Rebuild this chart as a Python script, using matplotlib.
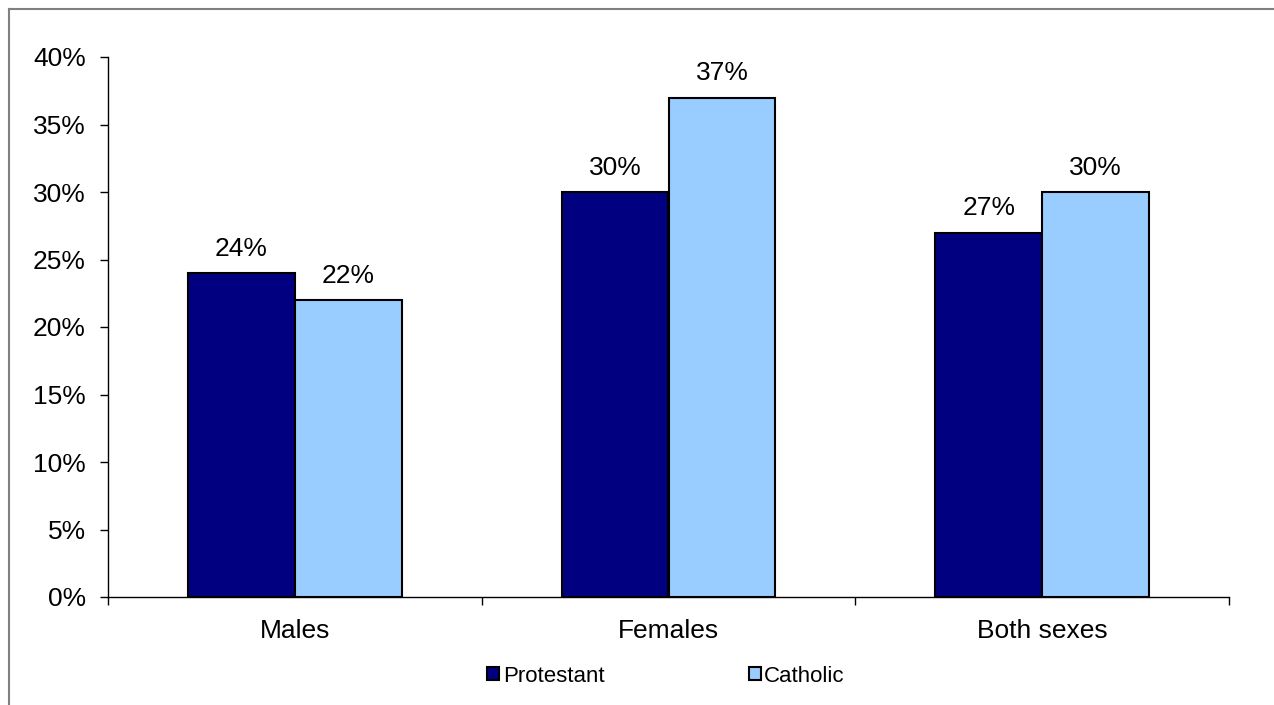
import matplotlib
matplotlib.use("Agg")
import matplotlib.pyplot as plt
from matplotlib.lines import Line2D
import numpy as np

plt.rcParams['font.family'] = ['Liberation Sans', 'DejaVu Sans']

GROUPS = ["Males", "Females", "Both sexes"]
SERIES = ["Protestant", "Catholic"]
PROTESTANT = [24, 30, 27]
CATHOLIC = [22, 37, 30]
COLORS = {"Protestant": "#000080", "Catholic": "#99CCFF"}
YTICKS = [0, 5, 10, 15, 20, 25, 30, 35, 40]

fig = plt.figure(figsize=(12.74, 7.05), dpi=100)
ax = fig.add_axes([108/1274, 1 - 597/705, (1229 - 108)/1274, (597 - 57)/705])

x = np.arange(len(GROUPS))
w = 0.286
values = {"Protestant": PROTESTANT, "Catholic": CATHOLIC}
for i, s in enumerate(SERIES):
    pos = x + (i - 0.5) * w
    ax.bar(pos, values[s], width=w, color=COLORS[s], edgecolor="black",
           linewidth=1.5, label=s, zorder=3)
    for xp, v in zip(pos, values[s]):
        ax.text(xp, v + 0.9, "%d%%" % v, ha="center", va="bottom", fontsize=19)

ax.set_xlim(-0.5, 2.5)
ax.set_ylim(0, 40)
ax.set_yticks(YTICKS)
ax.set_yticklabels(["%d%%" % t for t in YTICKS], fontsize=19)
ax.tick_params(axis="y", direction="out", length=6, width=1, pad=10)

# category boundaries get the tick marks, names sit between them
ax.set_xticks([-0.5, 0.5, 1.5, 2.5])
ax.set_xticklabels([])
ax.set_xticks(x, minor=True)
ax.set_xticklabels(GROUPS, minor=True, fontsize=19)
ax.tick_params(axis="x", which="major", direction="out", length=6, width=1)
ax.tick_params(axis="x", which="minor", length=0, pad=16)

for side in ("top", "right"):
    ax.spines[side].set_visible(False)
for side in ("left", "bottom"):
    ax.spines[side].set_linewidth(1)

leg = fig.legend(loc="center", bbox_to_anchor=(666/1274, 1 - 676/705), ncol=2,
                 frameon=False, fontsize=16, handlelength=0.55, handleheight=0.55,
                 handletextpad=0.15, columnspacing=6.5)
for p in leg.get_patches():
    p.set_linewidth(1.5)

# outer chart border (top and left edges)
fig.add_artist(Line2D([9/1274, 1], [1 - 9/705, 1 - 9/705], color="#808080", lw=1.5))
fig.add_artist(Line2D([9/1274, 9/1274], [0, 1 - 9/705], color="#808080", lw=1.5))

fig.savefig("out.png", dpi=100)
